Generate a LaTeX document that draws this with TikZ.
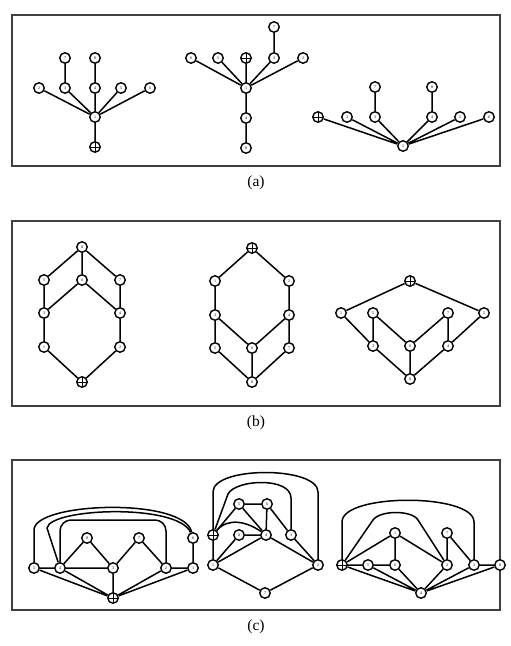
\documentclass[tikz,border=0pt]{standalone}
\usepackage{fontspec}
\setmainfont{Liberation Serif}
\begin{document}
\begin{tikzpicture}[x=1pt,y=-1pt,
 vtx/.style={circle,draw,line width=1.4pt,fill=white,minimum size=10.5pt,inner sep=0pt,font=\fontsize{4}{4}\selectfont},
 pvtx/.style={vtx,path picture={\draw[line width=1pt] (path picture bounding box.north) -- (path picture bounding box.south) (path picture bounding box.west) -- (path picture bounding box.east);}},
 edg/.style={line width=1.5pt},
 panelbox/.style={draw=black!75,line width=1.3pt},
 captxt/.style={font=\fontsize{15.5}{16}\selectfont}]
\useasboundingbox (0,0) rectangle (511,646);
% frames
\draw[panelbox] (12,15) rectangle (500,166);
\draw[panelbox] (12,221) rectangle (500,406);
\draw[panelbox] (12,460) rectangle (500,610);
\node[captxt] (capa) at (256,183) {(a)};
\node[captxt] (capb) at (256,423) {(b)};
\node[captxt] (capc) at (256,627) {(c)};
% ---------- (a) graph 1
\node[vtx] (a1n7) at (65,58) {7};
\node[vtx] (a1n8) at (95,58) {8};
\node[vtx] (a1n2) at (39,88) {2};
\node[vtx] (a1n3) at (65,88) {3};
\node[vtx] (a1n4) at (95,88) {4};
\node[vtx] (a1n5) at (121,88) {5};
\node[vtx] (a1n6) at (150,88) {6};
\node[vtx] (a1n1) at (95,117) {1};
\node[pvtx] (a1p) at (95,147) {};
\draw[edg] (a1n7)--(a1n3) (a1n8)--(a1n4) (a1n2)--(a1n1) (a1n3)--(a1n1) (a1n4)--(a1n1) (a1n5)--(a1n1) (a1n6)--(a1n1) (a1n1)--(a1p);
% ---------- (a) graph 2
\node[vtx] (a2n7) at (274,27) {7};
\node[vtx] (a2n6) at (191,58) {6};
\node[vtx] (a2n5) at (218,58) {5};
\node[pvtx] (a2p) at (246,58) {};
\node[vtx] (a2n3) at (274,58) {3};
\node[vtx] (a2n2) at (303,58) {2};
\node[vtx] (a2n1) at (246,88) {1};
\node[vtx] (a2n4) at (246,118) {4};
\node[vtx] (a2n8) at (246,148) {8};
\draw[edg] (a2n7)--(a2n3) (a2n6)--(a2n1) (a2n5)--(a2n1) (a2p)--(a2n1) (a2n3)--(a2n1) (a2n2)--(a2n1) (a2n1)--(a2n4) (a2n4)--(a2n8);
% ---------- (a) graph 3
\node[vtx] (a3n7) at (375,87) {7};
\node[vtx] (a3n8) at (432,87) {8};
\node[pvtx] (a3p) at (318,117) {};
\node[vtx] (a3n2) at (347,117) {2};
\node[vtx] (a3n3) at (375,117) {3};
\node[vtx] (a3n4) at (432,117) {4};
\node[vtx] (a3n5) at (460,117) {5};
\node[vtx] (a3n6) at (489,117) {6};
\node[vtx] (a3n1) at (403,146) {1};
\draw[edg] (a3n7)--(a3n3) (a3n8)--(a3n4) (a3p)--(a3n1) (a3n2)--(a3n1) (a3n3)--(a3n1) (a3n4)--(a3n1) (a3n5)--(a3n1) (a3n6)--(a3n1);
% ---------- (b) graph 1
\node[vtx] (b1n8) at (82,247) {8};
\node[vtx] (b1n5) at (44,280) {5};
\node[vtx] (b1n6) at (82,280) {6};
\node[vtx] (b1n7) at (120,280) {7};
\node[vtx] (b1n3) at (44,313) {3};
\node[vtx] (b1n4) at (120,313) {4};
\node[vtx] (b1n1) at (44,347) {1};
\node[vtx] (b1n2) at (120,347) {2};
\node[pvtx] (b1p) at (82,382) {};
\draw[edg] (b1n8)--(b1n5) (b1n8)--(b1n6) (b1n8)--(b1n7) (b1n5)--(b1n3) (b1n6)--(b1n3) (b1n6)--(b1n4) (b1n7)--(b1n4) (b1n3)--(b1n1) (b1n4)--(b1n2) (b1n1)--(b1p) (b1n2)--(b1p);
% ---------- (b) graph 2
\node[pvtx] (b2p) at (252,248) {};
\node[vtx] (b2n1) at (215,281) {1};
\node[vtx] (b2n2) at (289,281) {2};
\node[vtx] (b2n3) at (215,315) {3};
\node[vtx] (b2n4) at (289,315) {4};
\node[vtx] (b2n5) at (215,348) {5};
\node[vtx] (b2n6) at (252,348) {6};
\node[vtx] (b2n7) at (289,348) {7};
\node[vtx] (b2n8) at (252,382) {8};
\draw[edg] (b2p)--(b2n1) (b2p)--(b2n2) (b2n1)--(b2n3) (b2n2)--(b2n4) (b2n3)--(b2n5) (b2n3)--(b2n6) (b2n4)--(b2n6) (b2n4)--(b2n7) (b2n5)--(b2n8) (b2n6)--(b2n8) (b2n7)--(b2n8);
% ---------- (b) graph 3
\node[pvtx] (b3p) at (410,281) {};
\node[vtx] (b3n1) at (341,313) {1};
\node[vtx] (b3n5) at (373,313) {5};
\node[vtx] (b3n7) at (448,313) {7};
\node[vtx] (b3n2) at (484,313) {2};
\node[vtx] (b3n3) at (373,346) {3};
\node[vtx] (b3n6) at (410,346) {6};
\node[vtx] (b3n4) at (448,346) {4};
\node[vtx] (b3n8) at (410,379) {8};
\draw[edg] (b3p)--(b3n1) (b3p)--(b3n2) (b3n1)--(b3n3) (b3n5)--(b3n3) (b3n5)--(b3n6) (b3n7)--(b3n6) (b3n7)--(b3n4) (b3n2)--(b3n4) (b3n3)--(b3n8) (b3n6)--(b3n8) (b3n4)--(b3n8);
% ---------- (c) graph 1
\node[vtx] (c1n8) at (87,538) {8};
\node[vtx] (c1n7) at (139,538) {7};
\node[vtx] (c1n6) at (193,538) {6};
\node[vtx] (c1n5) at (34,568) {5};
\node[vtx] (c1n4) at (60,568) {4};
\node[vtx] (c1n3) at (113,568) {3};
\node[vtx] (c1n2) at (166,568) {2};
\node[vtx] (c1n1) at (193,568) {1};
\node[pvtx] (c1p) at (113,598) {};
\draw[edg] (c1n5)--(c1n4) (c1n4)--(c1n3) (c1n2)--(c1n1) (c1n4)--(c1n8) (c1n8)--(c1n3) (c1n3)--(c1n7) (c1n7)--(c1n2) (c1n6)--(c1n1)
 (c1p)--(c1n5) (c1p)--(c1n4) (c1p)--(c1n3) (c1p)--(c1n2) (c1p)--(c1n1);
\draw[edg] (c1n5) -- (34,530) .. controls (34,502) and (184,497) .. (c1n6);
\draw[edg] (c1n4) -- (47,528) .. controls (50,508) and (178,503) .. (c1n6);
\draw[edg,rounded corners=11pt] (c1n4) -- (60,520) -- (166,520) -- (c1n2);
% ---------- (c) graph 2
\node[vtx] (c2n5) at (239,504) {5};
\node[vtx] (c2n6) at (267,504) {6};
\node[pvtx] (c2p) at (213,535) {};
\node[vtx] (c2n8) at (239,535) {8};
\node[vtx] (c2n4) at (266,535) {4};
\node[vtx] (c2n3) at (291,535) {3};
\node[vtx] (c2n1) at (213,565) {1};
\node[vtx] (c2n2) at (318,565) {2};
\node[vtx] (c2n7) at (265,593) {7};
\draw[edg] (c2n5)--(c2n6) (c2n5)--(c2n4) (c2n6)--(c2n4) (c2n6)--(c2n3) (c2p)--(c2n5) (c2n8)--(c2n4) (c2p)--(c2n1) (c2n1)--(c2n8) (c2n1)--(c2n4) (c2n4)--(c2n2) (c2n3)--(c2n2) (c2n1)--(c2n7) (c2n2)--(c2n7);
\draw[edg] (c2p) -- (213,492) .. controls (213,466) and (318,466) .. (318,492) -- (c2n2);
\draw[edg] (c2p) -- (228,494) .. controls (236,479) and (291,477) .. (291,498) -- (c2n3);
\draw[edg] (c2p) to[out=50,in=145] (c2n4);
% ---------- (c) graph 3
\node[vtx] (c3n1) at (395,533) {1};
\node[vtx] (c3n7) at (447,533) {7};
\node[pvtx] (c3p) at (342,565) {};
\node[vtx] (c3n5) at (368,565) {5};
\node[vtx] (c3n6) at (395,565) {6};
\node[vtx] (c3n2) at (447,565) {2};
\node[vtx] (c3n3) at (474,565) {3};
\node[vtx] (c3n8) at (500,565) {8};
\node[vtx] (c3n4) at (421,593) {4};
\draw[edg] (c3p)--(c3n5) (c3n5)--(c3n6) (c3n3)--(c3n8) (c3p)--(c3n1) (c3n1)--(c3n6) (c3n1)--(c3n2) (c3n7)--(c3n2) (c3n7)--(c3n3)
 (c3p)--(c3n4) (c3n5)--(c3n4) (c3n6)--(c3n4) (c3n2)--(c3n4) (c3n3)--(c3n4) (c3n8)--(c3n4);
\draw[edg] (c3p) -- (342,522) .. controls (342,493) and (474,493) .. (474,522) -- (c3n3);
\draw[edg] (c3p) -- (373,520) .. controls (380,510) and (412,510) .. (418,520) -- (c3n2);
\end{tikzpicture}
\end{document}
